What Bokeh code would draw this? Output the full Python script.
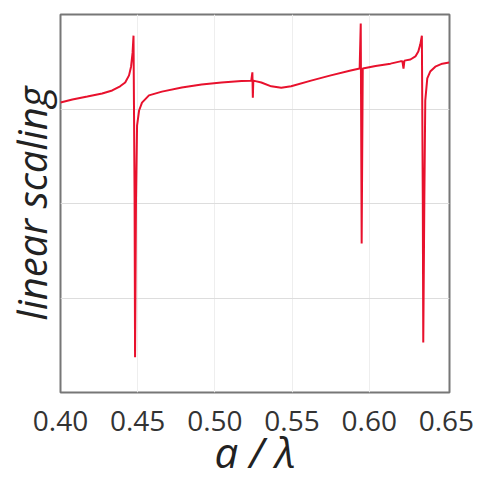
from bokeh.plotting import figure
from bokeh.models import FixedTicker, Range1d, CustomJSTickFormatter
from bokeh.embed import file_html
from bokeh.resources import INLINE

# Data (normalised transmission, linear scaling)
a_lambda = [0.4000, 0.4077, 0.4174, 0.4270, 0.4335, 0.4386, 0.4419, 0.4444,
            0.4457, 0.4467, 0.4473, 0.4480, 0.4483, 0.4489, 0.4496, 0.4509,
            0.4528, 0.4573, 0.4657, 0.4786, 0.4914, 0.5043, 0.5172, 0.5236,
            0.5243, 0.5246, 0.5249, 0.5301, 0.5365, 0.5430, 0.5494, 0.5623,
            0.5751, 0.5880, 0.5938, 0.5945, 0.5951, 0.5958, 0.6041, 0.6138,
            0.6202, 0.6215, 0.6222, 0.6228, 0.6267, 0.6299, 0.6318, 0.6331,
            0.6341, 0.6347, 0.6350, 0.6357, 0.6363, 0.6376, 0.6395, 0.6428,
            0.6473, 0.6518]
signal = [0.767, 0.775, 0.783, 0.791, 0.799, 0.810, 0.820, 0.839,
          0.862, 0.899, 0.944, 0.508, 0.093, 0.508, 0.706, 0.746,
          0.767, 0.786, 0.796, 0.807, 0.815, 0.820, 0.824, 0.825,
          0.847, 0.780, 0.825, 0.820, 0.810, 0.806, 0.810, 0.825,
          0.839, 0.852, 0.857, 0.976, 0.394, 0.857, 0.864, 0.870,
          0.876, 0.876, 0.857, 0.878, 0.881, 0.889, 0.902, 0.921,
          0.944, 0.508, 0.132, 0.508, 0.772, 0.831, 0.849, 0.862,
          0.870, 0.873]

x_ticks = [0.40, 0.45, 0.50, 0.55, 0.60, 0.65]
x_grid = [0.45, 0.50, 0.55, 0.60]
y_grid = [0.25, 0.50, 0.75]

p = figure(width=481, height=484, output_backend="svg", toolbar_location=None,
           x_range=Range1d(0.40, 0.652), y_range=Range1d(0.0, 1.0),
           min_border_left=58, min_border_right=32, min_border_top=14,
           min_border_bottom=92)

p.line(a_lambda, signal, line_color="#e8112d", line_width=2)

p.outline_line_color = "#777777"
p.outline_line_width = 2
p.background_fill_color = "white"
p.border_fill_color = "white"

# x axis
p.xaxis.ticker = FixedTicker(ticks=x_ticks)
p.xaxis.formatter = CustomJSTickFormatter(code="return tick.toFixed(2);")
p.xaxis.axis_line_color = None
p.xaxis.major_tick_line_color = None
p.xaxis.minor_tick_line_color = None
p.xaxis.major_label_text_font = "Open Sans"
p.xaxis.major_label_text_font_size = "28px"
p.xaxis.major_label_text_color = "#333333"
p.xaxis.major_label_standoff = 12
p.xaxis.axis_label = "a / λ"
p.xaxis.axis_label_text_font = "Open Sans"
p.xaxis.axis_label_text_font_style = "italic"
p.xaxis.axis_label_text_font_size = "42px"
p.xaxis.axis_label_text_color = "#222222"
p.xaxis.axis_label_standoff = -11

# y axis
p.yaxis.ticker = FixedTicker(ticks=[])
p.yaxis.axis_line_color = None
p.yaxis.major_tick_line_color = None
p.yaxis.minor_tick_line_color = None
p.yaxis.axis_label = "linear scaling"
p.yaxis.axis_label_text_font = "Open Sans"
p.yaxis.axis_label_text_font_style = "italic"
p.yaxis.axis_label_text_font_size = "40px"
p.yaxis.axis_label_text_color = "#222222"
p.yaxis.axis_label_standoff = 2

p.xgrid.ticker = FixedTicker(ticks=x_grid)
p.ygrid.ticker = FixedTicker(ticks=y_grid)
p.xgrid.grid_line_color = "#eeeeee"
p.ygrid.grid_line_color = "#dddddd"

open("out.html", "w").write(file_html(p, INLINE))
